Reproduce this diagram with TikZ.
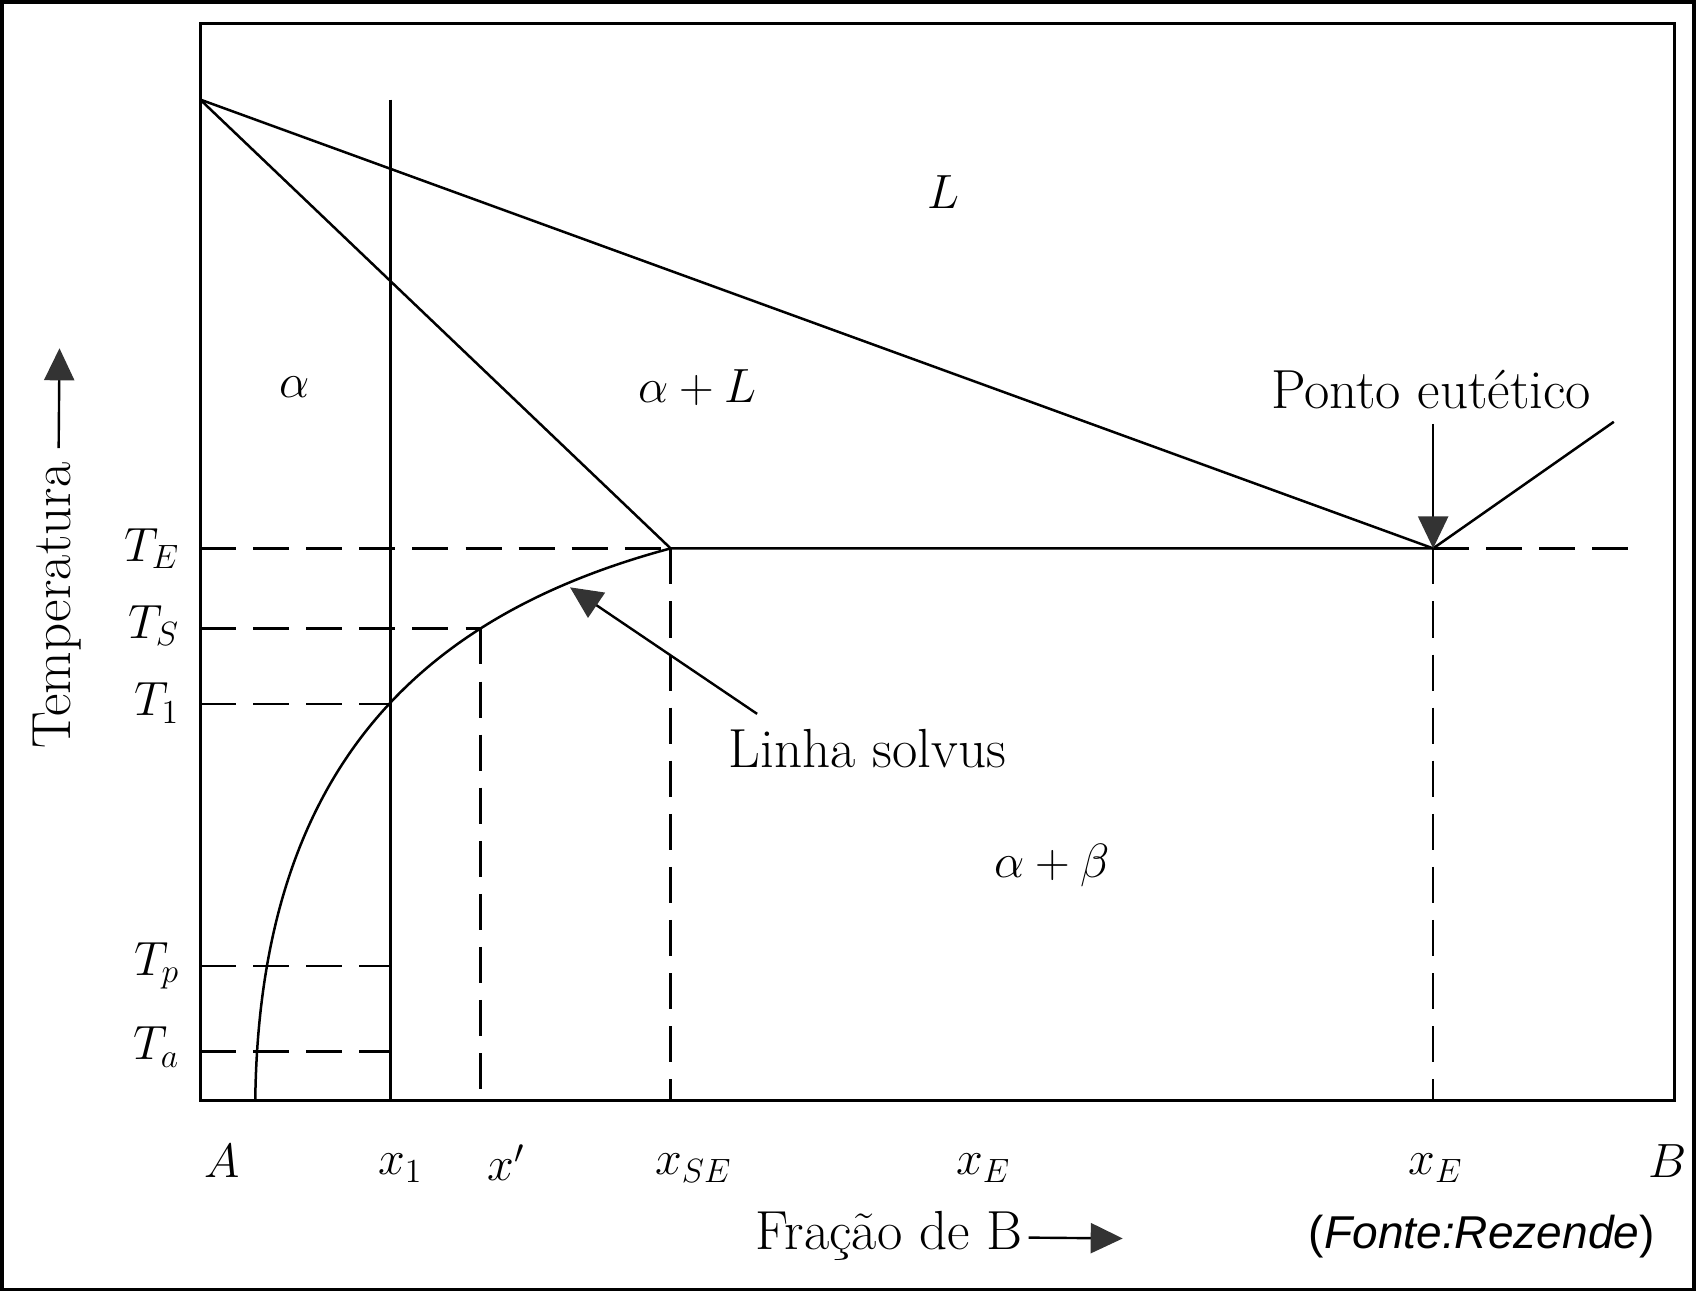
\RequirePackage{fix-cm}
\documentclass[tikz,border=0pt]{standalone}
\usepackage{fontspec}
\newfontfamily\srcfont{Liberation Sans}
\usetikzlibrary{arrows.meta}
\begin{document}
\begin{tikzpicture}[x=0.54pt,y=-0.54pt,
  plotframe/.style={line width=1.5pt},
  phaseline/.style={line width=1.25pt, line join=round},
  dashln/.style={line width=1.25pt, dash pattern=on 18pt off 8.5pt},
  ptr/.style={line width=1.2pt, -{Triangle[length=16pt,width=15pt,color=black!80]}},
  mlbl/.style={font=\fontsize{24}{28}\selectfont, inner sep=0pt},
  tlbl/.style={font=\fontsize{27.5}{32}\selectfont, inner sep=0pt}]

\useasboundingbox (0,0) rectangle (1568,1194);
\draw[line width=1.8pt] (1.7,1.7) rectangle (1566.3,1192.3);

% plot frame
\coordinate (F1) at (185,22);
\coordinate (F2) at (1548,1017);
\draw[plotframe] (F1) rectangle (F2);

% key points
\coordinate (MA) at (185,92);
\coordinate (EU) at (1325,507);
\coordinate (SE) at (620,507);
\coordinate (RL) at (1492,390);
\coordinate (X1t) at (361,92);
\coordinate (X1b) at (361,1017);
\coordinate (SVb) at (236,1017);

% phase boundaries
\draw[phaseline] (MA) -- (EU) -- (RL);
\draw[phaseline] (MA) -- (SE) -- (EU);
\draw[phaseline] (X1t) -- (X1b);
\draw[phaseline] (SVb) .. controls (240,700) and (400,566) .. (SE);

% dashed guide lines
\coordinate (TEa) at (185,507);
\coordinate (TEb) at (1512,507);
\coordinate (TSa) at (185,581);
\coordinate (XP) at (444,581);
\coordinate (XPb) at (444,1017);
\coordinate (T1a) at (185,651);
\coordinate (T1b) at (361,651);
\coordinate (TPa) at (185,893);
\coordinate (TPb) at (361,893);
\coordinate (TAa) at (185,972);
\coordinate (TAb) at (361,972);
\draw[dashln] (TEa) -- (SE);
\draw[dashln] (EU) -- (TEb);
\draw[dashln] (TSa) -- (XP);
\draw[dashln] (XP) -- (XPb);
\draw[dashln] (T1a) -- (T1b);
\draw[dashln] (TPa) -- (TPb);
\draw[dashln] (TAa) -- (TAb);
\draw[dashln] (SE) -- (SE |- F2);
\draw[dashln] (EU) -- (EU |- F2);

% pointer arrows
\coordinate (PEt) at (1325,392);
\draw[ptr] (PEt) -- (EU);
\coordinate (LSt) at (700,660);
\coordinate (LSh) at (527,543);
\draw[ptr] (LSt) -- (LSh);

% region labels
\node[mlbl] (lL) at (872,178) {$L$};
\node[mlbl] (la) at (272,358) {$\alpha$};
\node[mlbl] (laL) at (645,358) {$\alpha + L$};
\node[mlbl] (lab) at (973,800) {$\alpha + \beta$};
\node[tlbl] (lPE) at (1323,360) {Ponto eutético};
\node[tlbl] (lLS) at (802,692) {Linha solvus};

% temperature labels
\node[mlbl, anchor=east] (lTE) at (166,507) {$T_E$};
\node[mlbl, anchor=east] (lTS) at (166,578) {$T_S$};
\node[mlbl, anchor=east] (lT1) at (166,650) {$T_1$};
\node[mlbl, anchor=east] (lTp) at (166,893) {$T_p$};
\node[mlbl, anchor=east] (lTa) at (166,968) {$T_a$};

% composition labels
\node[mlbl] (lA) at (205,1073) {$A$};
\node[mlbl] (lx1) at (370,1080) {$x_1$};
\node[mlbl] (lxp) at (468,1075) {$x'$};
\node[mlbl] (lxSE) at (641,1080) {$x_{SE}$};
\node[mlbl] (lxE1) at (909,1080) {$x_E$};
\node[mlbl] (lxE2) at (1327,1080) {$x_E$};
\node[mlbl] (lB) at (1542,1073) {$B$};

% axis titles
\node[tlbl, rotate=90] (lTemp) at (53,560) {Temperatura};
\coordinate (TArr) at (55,322);
\draw[ptr, shorten <=7pt] (lTemp) -- (TArr);
\node[tlbl] (lFr) at (822,1143) {Fração de B};
\coordinate (FArr) at (1038,1145);
\draw[ptr, shorten <=3pt] (lFr) -- (FArr);

% source
\node[inner sep=0pt, font=\srcfont\fontsize{23}{27}\selectfont] (src) at (1370,1143) {(\textit{Fonte:Rezende})};
\end{tikzpicture}
\end{document}
